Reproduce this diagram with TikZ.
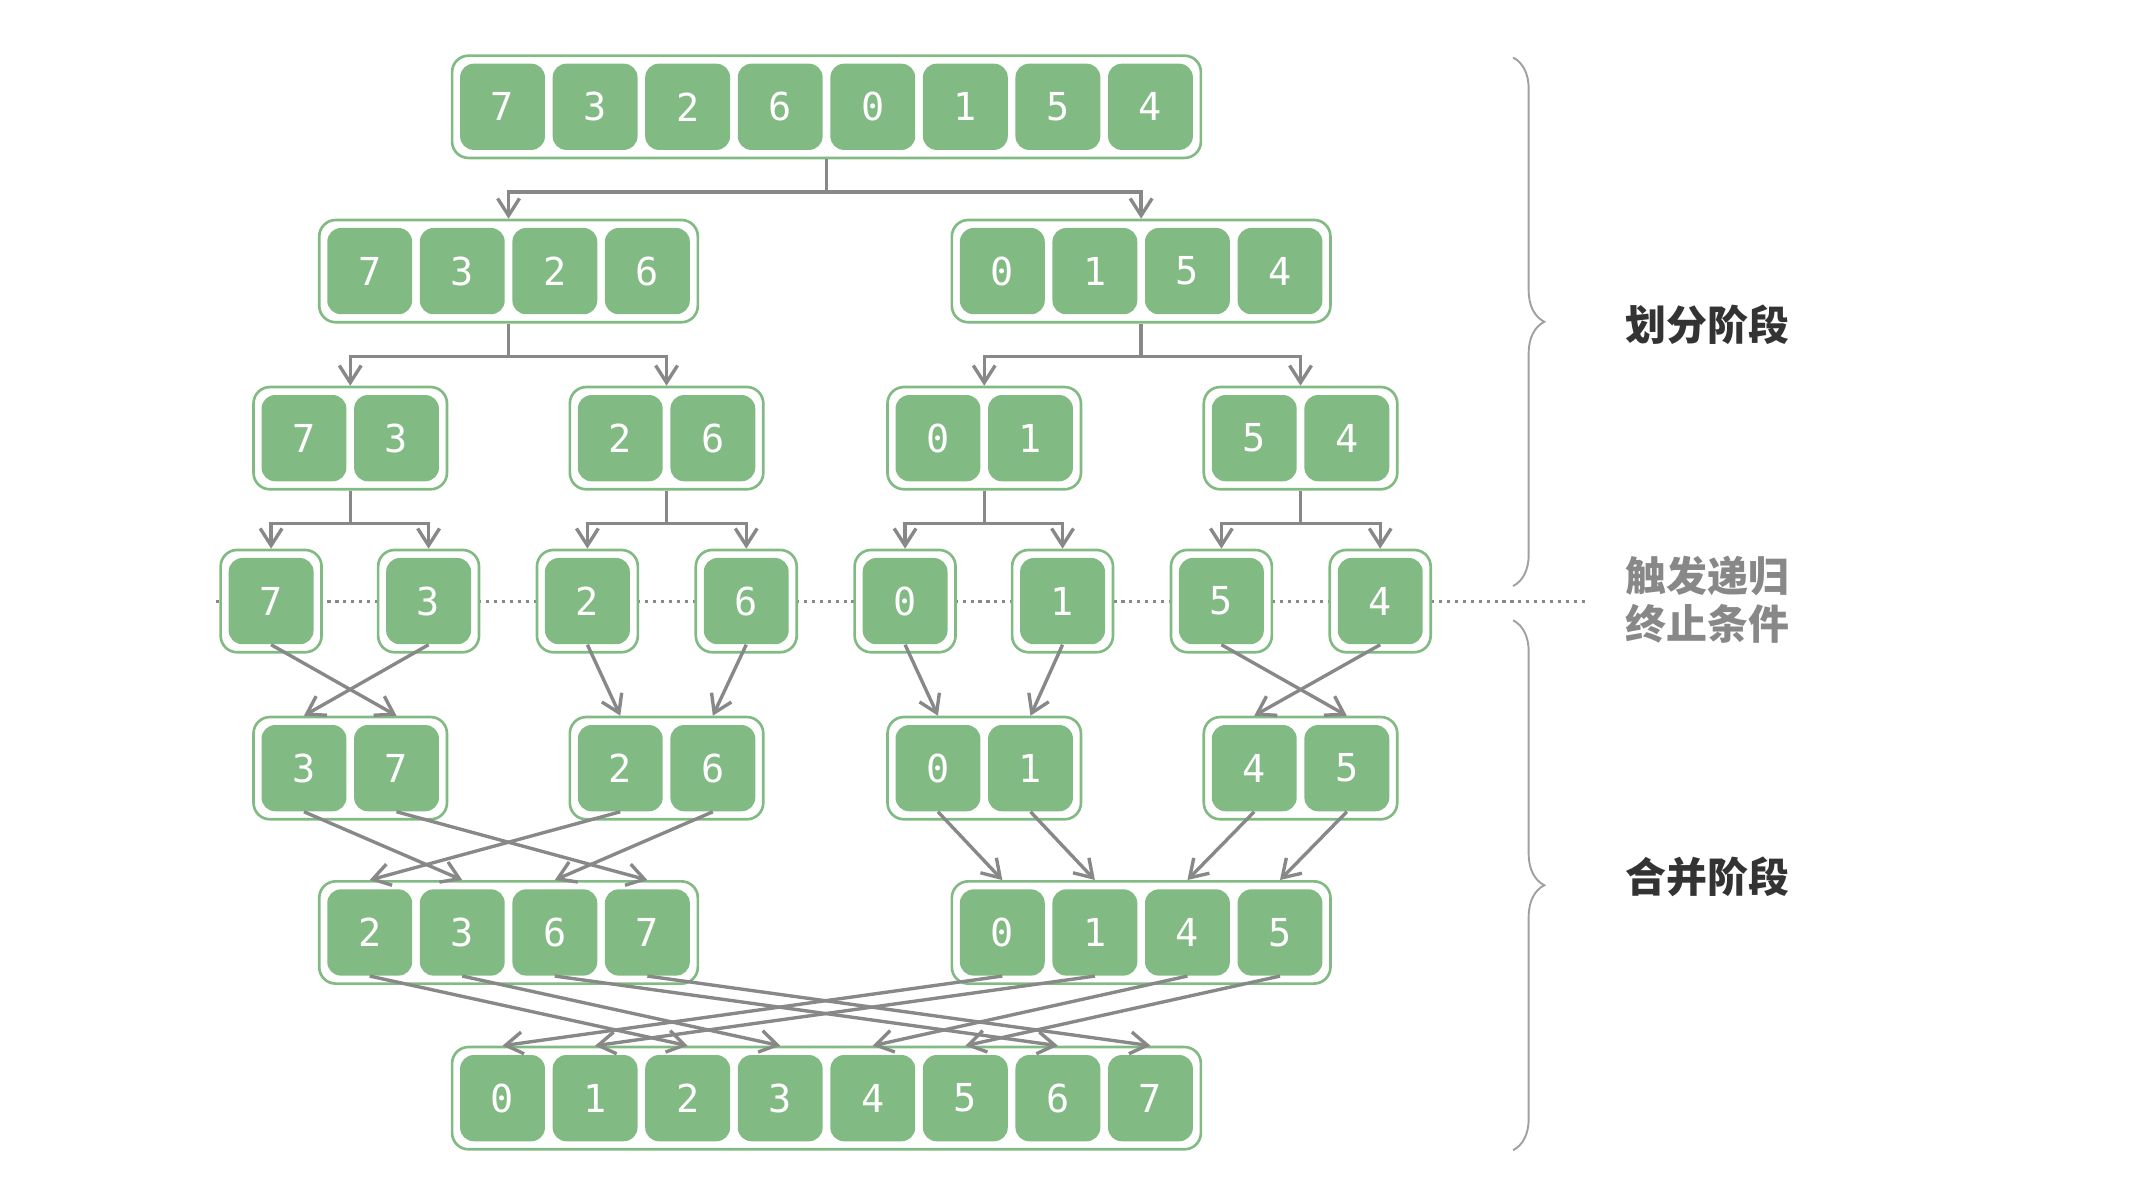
\documentclass[tikz,border=0pt]{standalone}
\usepackage{fontspec}
\setmonofont{DejaVu Sans Mono}
\newfontfamily\cjk{Noto Sans CJK SC}
\usetikzlibrary{arrows.meta,fit,backgrounds,decorations.pathreplacing}
\definecolor{CellClr}{RGB}{130,186,131}
\definecolor{LinkClr}{RGB}{136,136,136}

% one row of cells with a frame round it: name, x of first cell, y, last index, values
\newcommand{\cellrow}[5]{%
  \foreach \v [count=\i] in {#5}
    \node[cell] (#1-\i) at ({#2+(\i-1)*67.6},#3) {\v};
  \begin{scope}[on background layer]
    \node[frame,fit=(#1-1)(#1-#4)] (#1) {};
  \end{scope}
}

\begin{document}
\begin{tikzpicture}[x=0.02cm,y=-0.02cm,
  cell/.style={fill=CellClr,rounded corners=0.2cm,minimum width=1.24cm,
    minimum height=1.26cm,inner sep=0pt,text=white,
    font=\ttfamily\fontsize{16}{19}\selectfont},
  frame/.style={draw=CellClr,fill=white,line width=1.1pt,rounded corners=0.24cm,
    inner sep=0.11cm},
  link/.style={draw=LinkClr,line width=1.4pt,-{Straight Barb[length=2.5mm,width=3.2mm]}},
  bracer/.style={draw=LinkClr!80,line width=0.8pt,decorate,
    decoration={brace,amplitude=13pt}},
  stage/.style={font=\cjk\bfseries\fontsize{17}{22}\selectfont}]
\useasboundingbox (0,0) rectangle (1568,879);

\begin{scope}[on background layer]
\draw[LinkClr,line width=1.3pt,dotted] (158,439) -- (1160,439);
\end{scope}

% divide
\cellrow{a}{367}{78}{8}{7,3,2,6,0,1,5,4}
\cellrow{b1}{270}{198}{4}{7,3,2,6}
\cellrow{b2}{732}{198}{4}{0,1,5,4}
\cellrow{c1}{222}{320}{2}{7,3}
\cellrow{c2}{453}{320}{2}{2,6}
\cellrow{c3}{685}{320}{2}{0,1}
\cellrow{c4}{916}{320}{2}{5,4}
\cellrow{d1}{198}{439}{1}{7}
\cellrow{d2}{313}{439}{1}{3}
\cellrow{d3}{429}{439}{1}{2}
\cellrow{d4}{545}{439}{1}{6}
\cellrow{d5}{661}{439}{1}{0}
\cellrow{d6}{776}{439}{1}{1}
\cellrow{d7}{892}{439}{1}{5}
\cellrow{d8}{1008}{439}{1}{4}
% merge
\cellrow{e1}{222}{561}{2}{3,7}
\cellrow{e2}{453}{561}{2}{2,6}
\cellrow{e3}{685}{561}{2}{0,1}
\cellrow{e4}{916}{561}{2}{4,5}
\cellrow{f1}{270}{681}{4}{2,3,6,7}
\cellrow{f2}{732}{681}{4}{0,1,4,5}
\cellrow{g}{367}{802}{8}{0,1,2,3,4,5,6,7}

\foreach \p/\c in {a/b1,a/b2,b1/c1,b1/c2,b2/c3,b2/c4,
    c1/d1,c1/d2,c2/d3,c2/d4,c3/d5,c3/d6,c4/d7,c4/d8}
  \draw[link] (\p.south) -- ++(0,24) -| (\c.north);

\foreach \s/\t/\k in {d1-1/e1/2,d2-1/e1/1,d3-1/e2/1,d4-1/e2/2,
    d5-1/e3/1,d6-1/e3/2,d7-1/e4/2,d8-1/e4/1,
    e1-1/f1/2,e1-2/f1/4,e2-1/f1/1,e2-2/f1/3,
    e3-1/f2/1,e3-2/f2/2,e4-1/f2/3,e4-2/f2/4,
    f1-1/g/3,f1-2/g/4,f1-3/g/7,f1-4/g/8,
    f2-1/g/1,f2-2/g/2,f2-3/g/5,f2-4/g/6}
  \draw[link] (\s.south) -- (\t-\k.north |- \t.north);

\draw[bracer] (1105,42) -- (1105,428);
\draw[bracer] (1105,453) -- (1105,840);
\node[stage,text=black!80] (split) at (1247,237) {划分阶段};
\node[stage,text=LinkClr,align=center] (stop) at (1247,438) {触发递归\\[-2pt]终止条件};
\node[stage,text=black!80] (merge) at (1247,640) {合并阶段};

\end{tikzpicture}
\end{document}
